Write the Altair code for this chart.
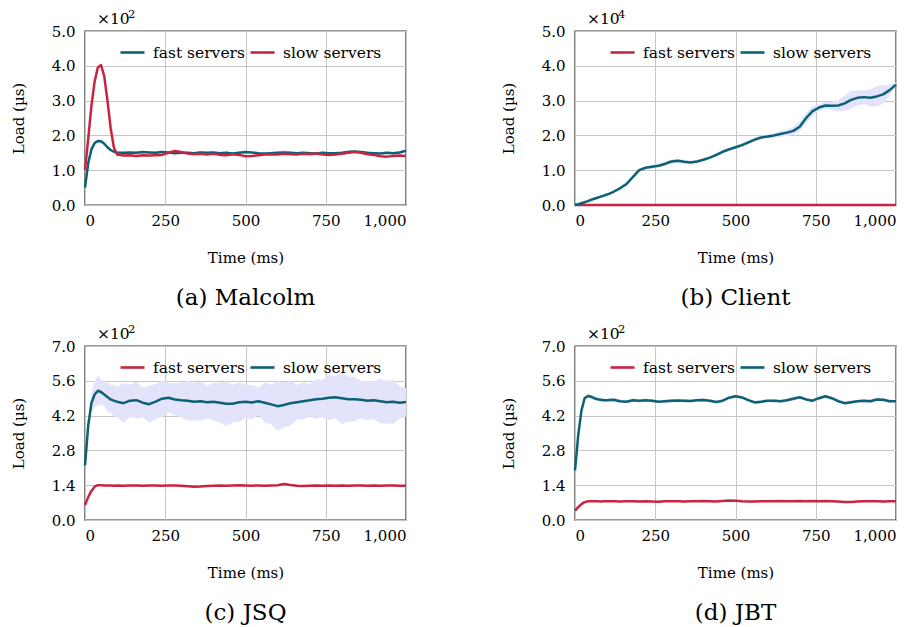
import altair as alt
import pandas as pd

# ---------------- data ----------------
time_ms = [0, 10, 20, 30, 40, 50, 60, 70, 80, 90, 100,
           120, 140, 160, 180, 200, 220, 240, 260, 280, 300,
           320, 340, 360, 380, 400, 420, 440, 460, 480, 500,
           520, 540, 560, 580, 600, 620, 640, 660, 680, 700,
           720, 740, 760, 780, 800, 820, 840, 860, 880, 900,
           920, 940, 960, 980, 1000]

# (a) Malcolm, load in units of 10^2 us
malcolm_fast = [0.50, 1.20, 1.60, 1.78, 1.84, 1.83, 1.76, 1.66, 1.58, 1.53, 1.51,
                1.50, 1.51, 1.50, 1.52, 1.51, 1.50, 1.52, 1.51, 1.49, 1.50,
                1.50, 1.49, 1.51, 1.50, 1.51, 1.49, 1.50, 1.48, 1.50, 1.52,
                1.51, 1.49, 1.48, 1.49, 1.50, 1.51, 1.50, 1.49, 1.50, 1.49,
                1.48, 1.50, 1.49, 1.49, 1.50, 1.52, 1.54, 1.52, 1.50, 1.49,
                1.48, 1.50, 1.49, 1.51, 1.56]
malcolm_slow = [1.00, 1.90, 2.85, 3.55, 3.95, 4.02, 3.70, 3.00, 2.20, 1.65, 1.45,
                1.42, 1.43, 1.41, 1.43, 1.42, 1.43, 1.44, 1.50, 1.55, 1.52,
                1.48, 1.46, 1.47, 1.45, 1.47, 1.44, 1.43, 1.46, 1.44, 1.40,
                1.41, 1.43, 1.45, 1.46, 1.45, 1.47, 1.46, 1.45, 1.47, 1.46,
                1.48, 1.45, 1.44, 1.45, 1.47, 1.50, 1.52, 1.50, 1.46, 1.44,
                1.40, 1.39, 1.41, 1.42, 1.41]
malcolm_fast_spread = [0.02, 0.03, 0.03, 0.03, 0.04, 0.04, 0.03, 0.03, 0.03, 0.03, 0.03,
                       0.03, 0.03, 0.04, 0.03, 0.03, 0.04, 0.05, 0.03, 0.03, 0.04,
                       0.03, 0.04, 0.05, 0.03, 0.03, 0.04, 0.03, 0.03, 0.04, 0.05,
                       0.04, 0.03, 0.03, 0.04, 0.05, 0.06, 0.04, 0.03, 0.03, 0.04,
                       0.03, 0.04, 0.03, 0.03, 0.04, 0.05, 0.04, 0.03, 0.04, 0.03,
                       0.04, 0.03, 0.04, 0.03, 0.03]

# (b) Client, load in units of 10^4 us
client_fast = [0.0, 0.0, 0.0, 0.0, 0.0, 0.0, 0.0, 0.0, 0.0, 0.0, 0.0,
               0.0, 0.0, 0.0, 0.0, 0.0, 0.0, 0.0, 0.0, 0.0, 0.0,
               0.0, 0.0, 0.0, 0.0, 0.0, 0.0, 0.0, 0.0, 0.0, 0.0,
               0.0, 0.0, 0.0, 0.0, 0.0, 0.0, 0.0, 0.0, 0.0, 0.0,
               0.0, 0.0, 0.0, 0.0, 0.0, 0.0, 0.0, 0.0, 0.0, 0.0,
               0.0, 0.0, 0.0, 0.0, 0.0]
client_slow = [0.00, 0.02, 0.05, 0.08, 0.11, 0.15, 0.18, 0.21, 0.24, 0.27, 0.30,
               0.38, 0.48, 0.60, 0.80, 1.00, 1.07, 1.10, 1.13, 1.18, 1.25,
               1.27, 1.24, 1.22, 1.25, 1.30, 1.36, 1.44, 1.53, 1.60, 1.66,
               1.72, 1.80, 1.88, 1.94, 1.97, 2.00, 2.04, 2.08, 2.13, 2.25,
               2.50, 2.70, 2.80, 2.86, 2.85, 2.86, 2.92, 3.02, 3.08, 3.10,
               3.08, 3.12, 3.18, 3.30, 3.46]
client_slow_spread = [0.00, 0.01, 0.01, 0.01, 0.01, 0.01, 0.01, 0.01, 0.02, 0.02, 0.02,
                      0.02, 0.02, 0.02, 0.03, 0.03, 0.04, 0.05, 0.05, 0.06, 0.06,
                      0.06, 0.05, 0.05, 0.04, 0.04, 0.04, 0.05, 0.05, 0.05, 0.05,
                      0.05, 0.06, 0.06, 0.05, 0.05, 0.06, 0.08, 0.10, 0.12, 0.14,
                      0.15, 0.14, 0.10, 0.10, 0.12, 0.16, 0.22, 0.26, 0.22, 0.20,
                      0.24, 0.30, 0.26, 0.16, 0.05]

# (c) JSQ, load in units of 10^2 us
jsq_fast = [0.60, 0.92, 1.17, 1.34, 1.40, 1.40, 1.39, 1.39, 1.39, 1.38, 1.39,
            1.38, 1.39, 1.39, 1.38, 1.39, 1.39, 1.38, 1.39, 1.39, 1.38,
            1.36, 1.34, 1.35, 1.37, 1.38, 1.39, 1.38, 1.39, 1.40, 1.39,
            1.38, 1.39, 1.38, 1.39, 1.40, 1.45, 1.41, 1.38, 1.37, 1.38,
            1.39, 1.38, 1.39, 1.38, 1.39, 1.38, 1.39, 1.39, 1.38, 1.39,
            1.38, 1.39, 1.39, 1.38, 1.38]
jsq_slow = [2.20, 3.80, 4.70, 5.05, 5.20, 5.15, 5.05, 4.95, 4.85, 4.80, 4.76,
            4.70, 4.80, 4.82, 4.72, 4.66, 4.76, 4.88, 4.92, 4.85, 4.82,
            4.80, 4.76, 4.78, 4.74, 4.76, 4.72, 4.68, 4.68, 4.74, 4.76,
            4.73, 4.78, 4.72, 4.65, 4.58, 4.63, 4.70, 4.74, 4.78, 4.82,
            4.86, 4.88, 4.92, 4.94, 4.90, 4.86, 4.86, 4.84, 4.80, 4.82,
            4.78, 4.74, 4.76, 4.72, 4.75]
jsq_slow_spread = [0.05, 0.20, 0.40, 0.50, 0.60, 0.50, 0.45, 0.60, 0.55, 0.65, 0.60,
                   0.80, 0.65, 0.75, 0.60, 0.75, 0.70, 0.75, 0.60, 0.65, 0.70,
                   0.80, 0.75, 0.80, 0.65, 0.75, 0.80, 0.90, 0.75, 0.80, 0.65,
                   0.70, 0.55, 0.80, 0.80, 1.00, 0.90, 0.90, 0.70, 0.75, 0.65,
                   0.80, 0.75, 0.90, 0.85, 1.05, 0.90, 0.90, 0.75, 0.80, 0.75,
                   0.90, 0.85, 0.90, 0.65, 0.55]

# (d) JBT, load in units of 10^2 us
jbt_fast = [0.38, 0.52, 0.64, 0.72, 0.75, 0.75, 0.75, 0.75, 0.74, 0.75, 0.75,
            0.75, 0.74, 0.75, 0.75, 0.74, 0.75, 0.74, 0.73, 0.75, 0.75,
            0.75, 0.74, 0.75, 0.75, 0.76, 0.75, 0.74, 0.76, 0.78, 0.77,
            0.75, 0.74, 0.74, 0.75, 0.75, 0.75, 0.76, 0.75, 0.75, 0.76,
            0.75, 0.76, 0.75, 0.76, 0.75, 0.74, 0.72, 0.72, 0.74, 0.75,
            0.75, 0.75, 0.74, 0.75, 0.75]
jbt_slow = [2.00, 3.40, 4.40, 4.90, 4.99, 4.96, 4.90, 4.86, 4.84, 4.82, 4.82,
            4.84, 4.78, 4.76, 4.82, 4.80, 4.82, 4.80, 4.76, 4.78, 4.80,
            4.81, 4.80, 4.79, 4.82, 4.83, 4.80, 4.75, 4.80, 4.92, 4.98,
            4.93, 4.82, 4.73, 4.76, 4.80, 4.80, 4.78, 4.82, 4.88, 4.94,
            4.85, 4.80, 4.90, 4.98, 4.90, 4.78, 4.70, 4.74, 4.78, 4.80,
            4.78, 4.85, 4.84, 4.78, 4.78]
jbt_slow_spread = [0.02, 0.04, 0.05, 0.06, 0.07, 0.07, 0.06, 0.07, 0.08, 0.06, 0.07,
                   0.08, 0.07, 0.06, 0.07, 0.08, 0.06, 0.07, 0.06, 0.07, 0.08,
                   0.06, 0.07, 0.06, 0.07, 0.08, 0.06, 0.07, 0.06, 0.07, 0.08,
                   0.07, 0.06, 0.07, 0.08, 0.06, 0.07, 0.06, 0.07, 0.08, 0.07,
                   0.06, 0.07, 0.08, 0.07, 0.06, 0.07, 0.08, 0.07, 0.06, 0.07,
                   0.08, 0.07, 0.06, 0.07, 0.06]

x_ticks = [0, 250, 500, 750, 1000]
y_ticks_ab = [0.0, 1.0, 2.0, 3.0, 4.0, 5.0]
y_ticks_cd = [0.0, 1.4, 2.8, 4.2, 5.6, 7.0]
series_names = ["fast servers", "slow servers"]

# ---------------- style ----------------
FONT = "DejaVu Serif"
TEAL = "#0c6175"
RED = "#c9243f"
BAND = "#e3e3fb"
W, H = 321, 174


def panel(caption, exponent, fast, slow, band_of, spread, ymax, yticks, colors):
    line_df = pd.DataFrame({
        "time": time_ms * 2,
        "value": fast + slow,
        "series": [series_names[0]] * len(time_ms) + [series_names[1]] * len(time_ms),
    })
    centre = fast if band_of == 0 else slow
    band_df = pd.DataFrame({
        "time": time_ms,
        "lo": [c - s for c, s in zip(centre, spread)],
        "hi": [c + s for c, s in zip(centre, spread)],
    })
    xenc = alt.X("time:Q", scale=alt.Scale(domain=[0, 1000], nice=False),
                 axis=alt.Axis(values=x_ticks, format=",d", title="Time (ms)"))
    yscale = alt.Scale(domain=[0, ymax], nice=False, zero=True)
    yaxis = alt.Axis(values=yticks, format=".1f", title="Load (µs)")

    band = alt.Chart(band_df).mark_area(color=BAND, opacity=1).encode(
        x=xenc,
        y=alt.Y("lo:Q", scale=yscale, axis=yaxis),
        y2="hi:Q",
    )
    lines = alt.Chart(line_df).mark_line(strokeWidth=2.5, strokeJoin="round").encode(
        x=xenc,
        y=alt.Y("value:Q", scale=yscale, axis=yaxis),
        color=alt.Color(
            "series:N",
            scale=alt.Scale(domain=series_names, range=colors),
            legend=alt.Legend(
                orient="none", legendX=34, legendY=8, direction="horizontal",
                title=None, symbolType="stroke", symbolStrokeWidth=2.6,
                symbolSize=576, labelFont=FONT, labelFontSize=15.5,
                labelColor="black", labelOffset=7, columnPadding=0,
                padding=0,
            ),
        ),
    )
    base_text = alt.Chart(pd.DataFrame({"t": ["×10"]})).mark_text(
        align="left", baseline="middle", font=FONT, fontSize=15.5, color="black"
    ).encode(x=alt.value(12), y=alt.value(-12), text="t:N")
    exp_text = alt.Chart(pd.DataFrame({"t": [exponent]})).mark_text(
        align="left", baseline="middle", font=FONT, fontSize=11.5, color="black"
    ).encode(x=alt.value(43), y=alt.value(-16), text="t:N")

    return alt.layer(band, lines, base_text, exp_text).properties(
        width=W, height=H,
        title=alt.TitleParams(text=caption, orient="bottom", font=FONT,
                              fontSize=23, fontWeight="normal", color="black",
                              offset=22),
    )


pa = panel("(a) Malcolm", "2", malcolm_fast, malcolm_slow, 0, malcolm_fast_spread,
           5.0, y_ticks_ab, [TEAL, RED])
pb = panel("(b) Client", "4", client_fast, client_slow, 1, client_slow_spread,
           5.0, y_ticks_ab, [RED, TEAL])
pc = panel("(c) JSQ", "2", jsq_fast, jsq_slow, 1, jsq_slow_spread,
           7.0, y_ticks_cd, [RED, TEAL])
pd_ = panel("(d) JBT", "2", jbt_fast, jbt_slow, 1, jbt_slow_spread,
            7.0, y_ticks_cd, [RED, TEAL])

chart = alt.concat(pa, pb, pc, pd_, columns=2, spacing={"row": 141, "column": 169},
                   bounds="flush").resolve_scale(
    x="independent", y="independent", color="independent"
).properties(
    padding={"left": 2, "top": 0, "right": 5, "bottom": 5}
).configure_view(
    stroke="#333333", strokeWidth=1.4
).configure_axis(
    grid=True, gridColor="#c6c6c6", gridWidth=1, domain=False, ticks=False,
    labelFont=FONT, labelFontSize=15, labelColor="black",
    titleFont=FONT, titleFontSize=15, titleFontWeight="normal", titleColor="black",
).configure_axisX(labelPadding=8, titlePadding=22).configure_axisY(labelPadding=10, titlePadding=25)

chart.save("out.html", embed_options={"renderer": "svg", "actions": False})
